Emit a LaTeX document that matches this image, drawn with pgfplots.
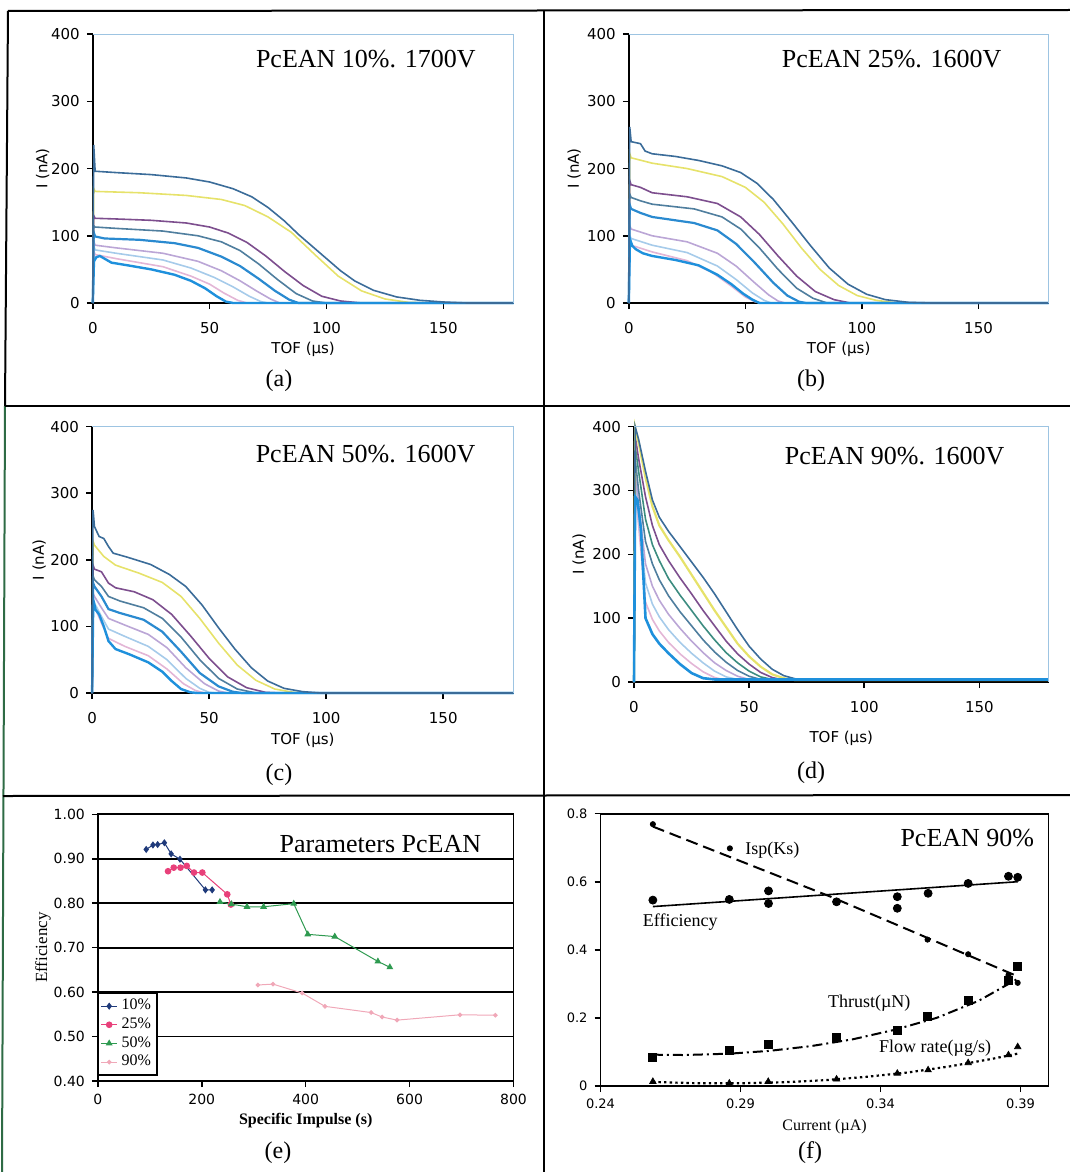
\documentclass[border=0pt]{standalone}
\usepackage{fontspec}
\setmainfont{Liberation Serif}
\newfontfamily\tickfont{DejaVu Sans}
\usepackage{pgfplots}
\pgfplotsset{compat=1.18}

\definecolor{cA}{HTML}{3B6C99}
\definecolor{cY}{HTML}{E6E26A}
\definecolor{cP}{HTML}{7D4E8E}
\definecolor{cG}{HTML}{4F7E9E}
\definecolor{cB}{HTML}{2A8AD0}
\definecolor{cLP}{HTML}{BBA6D6}
\definecolor{cLB}{HTML}{A6CBEA}
\definecolor{cPk}{HTML}{E3B6D6}
\definecolor{cB2}{HTML}{1E90DC}
\definecolor{cT}{HTML}{3C8C80}
\definecolor{boxblue}{HTML}{9DC4E2}
\definecolor{e10}{HTML}{1F3A7A}
\definecolor{e25}{HTML}{E8407A}
\definecolor{e50}{HTML}{2E9A50}
\definecolor{e90}{HTML}{F0A8B8}
\definecolor{framegreen}{HTML}{2E6B45}

\pgfplotsset{
  tof/.style={
    scale only axis, clip=false,
    xmin=0, xmax=180, ymin=0, ymax=400,
    axis x line=bottom, axis y line=left,
    axis line style={-,black,line width=1pt},
    xtick={0,50,100,150}, ytick={0,100,200,300,400},
    xticklabels={0,50,100,150}, yticklabels={0,100,200,300,400},
    tick align=outside, major tick length=3pt,
    tick style={black,line width=0.8pt},
    ticklabel style={font=\tickfont\fontsize{7.5}{8}\selectfont},
    xticklabel style={yshift=-3pt},
    label style={font=\tickfont\fontsize{7.5}{8}\selectfont},
    xlabel={TOF (µs)}, ylabel={I (nA)},
    every axis plot/.append style={line width=0.8pt},
  },
}

\begin{document}
\begin{tikzpicture}
\useasboundingbox (0,0) rectangle (535pt,-586pt);

% ---------------- (a)
\begin{axis}[tof, at={(46.4pt,-151.5pt)}, anchor=south west,
  width=210.35pt, height=134.45pt,
  xlabel style={at={(axis description cs:0.5,-0.172)},anchor=center},
  ylabel style={at={(axis description cs:-0.119,0.5)},anchor=center}]
\addplot[cLP] coordinates {(0,0)(0.4,92)(1,86)(10,82)(30,74)(45,62)(55,48)(63,33)(70,18)(76,6)(80,0)(180,0)};
\addplot[cLB] coordinates {(0,0)(0.4,85)(1,79)(10,74)(30,64)(42,52)(52,38)(60,24)(67,10)(72,2)(75,0)(180,0)};
\addplot[cPk] coordinates {(0,0)(0.4,78)(1,72)(10,66)(30,54)(42,40)(50,28)(56,15)(62,4)(66,0)(180,0)};
\addplot[cY] coordinates {(0,0)(0.4,170)(1,166)(20,164)(40,160)(55,154)(65,145)(75,128)(85,105)(95,72)(105,40)(115,18)(125,6)(135,1)(145,0)(180,0)};
\addplot[cP] coordinates {(0,0)(0.4,130)(1,126)(10,125)(25,123)(40,119)(50,113)(58,104)(66,90)(74,70)(82,47)(90,26)(98,10)(106,3)(115,0)(180,0)};
\addplot[cG] coordinates {(0,0)(0.4,115)(1,113)(10,111)(30,107)(45,100)(55,91)(63,78)(71,58)(79,35)(87,14)(94,3)(100,0)(180,0)};
\addplot[cB,line width=1.1pt] coordinates {(0,0)(0.4,105)(1,99)(5,96)(20,94)(35,89)(45,82)(55,69)(63,55)(71,36)(78,18)(84,5)(88,0)(180,0)};
\addplot[cB2,line width=1.2pt] coordinates {(0,0)(0.5,62)(1.5,68)(3,70)(5,66)(8,60)(15,56)(25,50)(35,42)(42,33)(48,22)(53,10)(57,2)(60,0)(180,0)};
\addplot[cA] coordinates {(0,0)(0.4,235)(1,196)(10,194)(25,191)(40,186)(50,180)(60,170)(68,158)(75,142)(82,122)(88,102)(94,84)(100,66)(106,48)(112,33)(120,19)(130,9)(140,4)(150,1.5)(160,0)(180,0)};
\draw[boxblue,line width=0.5pt] (rel axis cs:0,1) -- (rel axis cs:1,1) -- (rel axis cs:1,0);
\node[font=\fontsize{13}{14}\selectfont] at (axis cs:116.8,363) {PcEAN 10\%. 1700V};
\end{axis}

% ---------------- (b)
\begin{axis}[tof, at={(314.4pt,-151.5pt)}, anchor=south west,
  width=209.85pt, height=134.45pt,
  xlabel style={at={(axis description cs:0.5,-0.172)},anchor=center},
  ylabel style={at={(axis description cs:-0.130,0.5)},anchor=center}]
\addplot[cLP] coordinates {(0,0)(0.4,115)(1,110)(10,100)(25,91)(38,74)(46,55)(54,30)(60,12)(64,3)(67,0)(180,0)};
\addplot[cLB] coordinates {(0,0)(0.4,100)(1,96)(10,86)(25,75)(38,55)(46,35)(53,15)(58,4)(61,0)(180,0)};
\addplot[cPk] coordinates {(0,0)(0.4,90)(1,86)(10,76)(25,63)(36,45)(44,25)(50,9)(54,2)(57,0)(180,0)};
\addplot[cY] coordinates {(0,0)(0.4,222)(1,216)(10,208)(25,200)(40,188)(50,172)(58,150)(66,118)(74,82)(82,50)(90,26)(98,11)(106,4)(115,0)(180,0)};
\addplot[cP] coordinates {(0,0)(0.4,182)(1,176)(5,172)(10,164)(25,158)(38,148)(48,128)(56,102)(64,70)(72,40)(80,17)(88,5)(95,0)(180,0)};
\addplot[cG] coordinates {(0,0)(0.4,162)(1,157)(5,152)(10,147)(28,140)(40,128)(48,110)(56,82)(64,50)(72,22)(79,7)(85,0)(180,0)};
\addplot[cB,line width=1.1pt] coordinates {(0,0)(0.4,146)(1,140)(5,134)(10,128)(28,119)(38,108)(46,88)(54,60)(62,30)(68,11)(73,2)(76,0)(180,0)};
\addplot[cB2,line width=1.2pt] coordinates {(0,0)(0.5,95)(1.5,85)(3,80)(6,74)(10,70)(20,64)(30,56)(38,42)(44,28)(49,14)(53,5)(56,0)(180,0)};
\addplot[cA] coordinates {(0,0)(0.4,262)(1,240)(5,237)(7,226)(10,222)(20,218)(30,212)(40,204)(48,194)(55,178)(62,154)(70,120)(78,85)(86,52)(94,28)(102,13)(110,5)(120,1)(130,0)(180,0)};
\draw[boxblue,line width=0.5pt] (rel axis cs:0,1) -- (rel axis cs:1,1) -- (rel axis cs:1,0);
\node[font=\fontsize{13}{14}\selectfont] at (axis cs:112.7,363) {PcEAN 25\%. 1600V};
\end{axis}

% ---------------- (c)
\begin{axis}[tof, at={(46.05pt,-346.5pt)}, anchor=south west,
  width=210.7pt, height=133.2pt,
  xlabel style={at={(axis description cs:0.5,-0.176)},anchor=center},
  ylabel style={at={(axis description cs:-0.1255,0.5)},anchor=center}]
\addplot[cLP] coordinates {(0,0)(0.4,150)(1,145)(4,128)(7,112)(14,102)(24,88)(32,68)(40,38)(48,14)(54,3)(58,0)(180,0)};
\addplot[cLB] coordinates {(0,0)(0.4,140)(1,135)(4,115)(7,96)(14,85)(24,70)(32,50)(40,22)(46,7)(50,1)(53,0)(180,0)};
\addplot[cPk] coordinates {(0,0)(0.4,135)(1,130)(4,105)(7,82)(14,70)(24,56)(32,36)(39,14)(44,4)(48,0)(180,0)};
\addplot[cY] coordinates {(0,0)(0.4,228)(1,222)(5,205)(10,192)(20,180)(30,166)(38,145)(46,112)(54,75)(62,42)(70,19)(78,6)(86,1)(92,0)(180,0)};
\addplot[cP] coordinates {(0,0)(0.4,192)(1,186)(4,182)(7,165)(10,158)(18,152)(26,140)(34,118)(42,86)(50,52)(58,24)(66,8)(74,1)(80,0)(180,0)};
\addplot[cG] coordinates {(0,0)(0.4,176)(1,170)(4,160)(7,145)(12,138)(22,128)(30,112)(38,84)(46,50)(54,22)(62,6)(70,0)(180,0)};
\addplot[cB,line width=1.1pt] coordinates {(0,0)(0.4,166)(1,160)(4,145)(7,126)(12,120)(22,110)(30,92)(38,62)(46,30)(54,10)(60,2)(64,0)(180,0)};
\addplot[cB2,line width=1.2pt] coordinates {(0,0)(0.5,140)(1.5,125)(3,118)(5,100)(7,78)(10,66)(16,58)(24,46)(30,32)(34,18)(38,6)(42,1)(45,0)(180,0)};
\addplot[cA] coordinates {(0,0)(0.4,275)(1,250)(3,235)(5,232)(7,220)(9,210)(15,204)(25,193)(33,178)(40,160)(47,132)(54,98)(61,66)(68,38)(75,18)(82,7)(90,2)(98,0)(180,0)};
\draw[boxblue,line width=0.5pt] (rel axis cs:0,1) -- (rel axis cs:1,1) -- (rel axis cs:1,0);
\node[font=\fontsize{13}{14}\selectfont] at (axis cs:116.8,359) {PcEAN 50\%. 1600V};
\end{axis}

% ---------------- (d)
\begin{axis}[tof, at={(317pt,-341pt)}, anchor=south west,
  width=207.25pt, height=127.7pt,
  xlabel style={at={(axis description cs:0.5,-0.219)},anchor=center},
  ylabel style={at={(axis description cs:-0.132,0.5)},anchor=center}]
\addplot[cPk] coordinates {(0,0)(0.5,300)(2,245)(5,125)(8,98)(11,80)(15,62)(20,44)(25,29)(30,16)(35,7)(40,3)(180,3)};
\addplot[cLB] coordinates {(0,0)(0.5,315)(2,260)(5,155)(8,122)(11,102)(15,82)(20,62)(25,45)(30,30)(35,17)(40,8)(45,4)(180,3)};
\addplot[cLP] coordinates {(0,0)(0.5,330)(2,280)(5,185)(8,150)(11,128)(15,106)(20,84)(25,64)(30,46)(35,30)(40,18)(45,9)(50,4)(180,3)};
\addplot[cG] coordinates {(0,0)(0.5,350)(2,300)(5,220)(8,185)(11,160)(15,135)(20,110)(25,88)(30,66)(35,47)(40,31)(45,18)(50,9)(55,4)(180,3)};
\addplot[cT] coordinates {(0,0)(0.5,370)(2,330)(5,255)(8,215)(11,190)(15,162)(20,136)(25,112)(30,88)(35,66)(40,46)(45,30)(50,17)(55,8)(60,4)(180,3)};
\addplot[cP] coordinates {(0,0)(0.5,385)(2,350)(5,290)(8,245)(11,215)(15,190)(20,163)(25,138)(30,112)(35,88)(40,64)(45,44)(50,28)(55,15)(60,7)(65,3)(180,3)};
\addplot[cY,line width=1.1pt] coordinates {(0,0)(0.5,398)(2,375)(5,320)(8,275)(11,245)(15,222)(20,196)(25,168)(30,140)(35,112)(40,86)(45,60)(50,40)(55,24)(60,12)(65,6)(70,3)(180,3)};
\addplot[cA] coordinates {(0,0)(0.5,400)(2,380)(5,330)(8,285)(11,258)(15,236)(20,212)(25,188)(30,164)(35,138)(40,110)(45,82)(50,56)(55,36)(60,20)(65,10)(70,5)(75,3)(180,3)};
\addplot[cB2,line width=1.3pt] coordinates {(0,0)(0.5,290)(1.5,285)(3,240)(5,100)(8,75)(11,60)(15,45)(20,28)(25,14)(30,6)(35,4)(180,4)};
\draw[boxblue,line width=0.5pt] (rel axis cs:0,1) -- (rel axis cs:1,1) -- (rel axis cs:1,0);
\node[font=\fontsize{13}{14}\selectfont] at (axis cs:113.2,354.5) {PcEAN 90\%. 1600V};
\end{axis}

% ---------------- (e)
\begin{axis}[scale only axis, at={(48.95pt,-540.5pt)}, anchor=south west,
  width=207.8pt, height=133.35pt,
  xmin=0, xmax=800, ymin=0.4, ymax=1.0,
  xtick={0,200,400,600,800}, xticklabels={0,200,400,600,800},
  ytick={0.4,0.5,0.6,0.7,0.8,0.9,1.0},
  yticklabels={0.40,0.50,0.60,0.70,0.80,0.90,1.00},
  axis line style={black,line width=0.9pt},
  tick align=outside, major tick length=3pt,
  tick style={black,line width=0.8pt},
  xtick pos=left, ytick pos=left,
  ymajorgrids, grid style={black,line width=0.9pt},
  ticklabel style={font=\tickfont\fontsize{7}{8}\selectfont},
  xlabel={\bfseries Specific Impulse (s)}, ylabel={Efficiency},
  xlabel style={font=\fontsize{8}{9}\selectfont,at={(axis description cs:0.5,-0.15)},anchor=center},
  ylabel style={font=\fontsize{8.5}{9}\selectfont,at={(axis description cs:-0.132,0.5)},anchor=center},
  legend style={at={(axis description cs:0.0,0.02)},anchor=south west,
    draw=black,line width=0.8pt,fill=white,inner sep=1pt,
    font=\fontsize{8}{9}\selectfont,row sep=-1.5pt,
    cells={anchor=west}},
  legend image code/.code={\draw[#1,line width=0.5pt,mark repeat=2,mark phase=2] plot coordinates {(0pt,0pt)(4pt,0pt)(8pt,0pt)};},
  legend cell align=left,
]
\addplot[e10,line width=0.5pt,mark=diamond*,mark size=1.4pt] coordinates {
(93,0.921)(106,0.931)(115,0.932)(128,0.936)(141,0.911)(158,0.899)(207,0.830)(220,0.830)};
\addlegendentry{10\%}
\addplot[e25,line width=0.5pt,mark=*,mark size=1.4pt] coordinates {
(135,0.872)(146,0.880)(159,0.880)(171,0.884)(185,0.869)(201,0.869)(249,0.820)(256,0.797)};
\addlegendentry{25\%}
\addplot[e50,line width=0.5pt,mark=triangle*,mark size=1.5pt] coordinates {
(235,0.803)(257,0.798)(287,0.792)(319,0.792)(377,0.799)(404,0.730)(456,0.725)(539,0.669)(562,0.656)};
\addlegendentry{50\%}
\addplot[e90,line width=0.5pt,mark=*,mark size=0.9pt] coordinates {
(308,0.616)(337,0.618)(393,0.598)(437,0.568)(526,0.554)(547,0.544)(576,0.537)(697,0.549)(765,0.548)};
\addlegendentry{90\%}
\node[font=\fontsize{13}{14}\selectfont] at (axis cs:543.8,0.934) {Parameters PcEAN};
\end{axis}

% ---------------- (f)
\begin{axis}[scale only axis, at={(300.25pt,-543pt)}, anchor=south west,
  width=224pt, height=136.2pt,
  xmin=0.24, xmax=0.40, ymin=0, ymax=0.8,
  xtick={0.24,0.29,0.34,0.39}, xticklabels={0.24,0.29,0.34,0.39},
  ytick={0,0.2,0.4,0.6,0.8}, yticklabels={0,0.2,0.4,0.6,0.8},
  axis line style={black,line width=0.9pt},
  tick align=outside, major tick length=3pt,
  tick style={black,line width=0.8pt},
  xtick pos=left, ytick pos=left,
  ticklabel style={font=\tickfont\fontsize{6.5}{7}\selectfont},
  xlabel={Current (µA)},
  xlabel style={font=\fontsize{8}{9}\selectfont,at={(axis description cs:0.5,-0.15)},anchor=center},
]
% Isp
\addplot[black,only marks,mark=*,mark size=1.3pt] coordinates {
(0.2587,0.769)(0.2862,0.698)(0.3568,0.430)(0.3713,0.387)(0.3857,0.326)(0.389,0.303)};
\addplot[black,line width=1pt,dash pattern=on 6pt off 3pt] coordinates {
(0.2587,0.762)(0.3228,0.554)(0.389,0.322)};
% Efficiency
\addplot[black,only marks,mark=*,mark size=2pt] coordinates {
(0.2587,0.546)(0.286,0.548)(0.300,0.573)(0.300,0.536)(0.3243,0.541)(0.346,0.556)(0.346,0.522)(0.357,0.566)(0.3713,0.595)(0.3857,0.616)(0.389,0.613)};
\addplot[black,line width=0.8pt] coordinates {(0.2587,0.527)(0.389,0.600)};
% Thrust
\addplot[black,only marks,mark=square*,mark size=2pt] coordinates {
(0.2587,0.084)(0.286,0.104)(0.2999,0.122)(0.3243,0.143)(0.346,0.164)(0.3568,0.204)(0.3713,0.250)(0.3857,0.311)(0.389,0.350)};
\addplot[black,line width=1pt,dash pattern=on 5pt off 2pt on 1pt off 2pt] coordinates {
(0.2587,0.092)(0.27,0.091)(0.286,0.095)(0.30,0.103)(0.315,0.117)(0.33,0.137)(0.345,0.165)(0.36,0.200)(0.375,0.250)(0.389,0.315)};
% Flow rate
\addplot[black,only marks,mark=triangle*,mark size=1.8pt] coordinates {
(0.2587,0.013)(0.286,0.008)(0.2999,0.013)(0.3243,0.020)(0.346,0.037)(0.357,0.047)(0.3713,0.068)(0.3857,0.091)(0.389,0.115)};
\addplot[black,line width=1.1pt,dash pattern=on 1.2pt off 1.6pt] coordinates {
(0.2587,0.012)(0.275,0.008)(0.29,0.008)(0.305,0.011)(0.32,0.017)(0.335,0.027)(0.35,0.040)(0.365,0.058)(0.38,0.080)(0.389,0.095)};
\node[font=\fontsize{9}{10}\selectfont] at (axis cs:0.3014,0.693) {Isp(Ks)};
\node[font=\fontsize{9}{10}\selectfont] at (axis cs:0.2685,0.482) {Efficiency};
\node[font=\fontsize{9}{10}\selectfont] at (axis cs:0.336,0.243) {Thrust(µN)};
\node[font=\fontsize{9}{10}\selectfont] at (axis cs:0.3595,0.111) {Flow rate(µg/s)};
\node[font=\fontsize{13}{14}\selectfont] at (axis cs:0.371,0.727) {PcEAN 90\%};
\end{axis}

% ---------------- frame
\draw[black,line width=1pt] (4pt,-5.5pt) -- (535pt,-5pt);
\draw[black,line width=1pt] (4pt,-5.5pt) -- (2.5pt,-203pt);
\draw[framegreen,line width=1pt] (2.5pt,-203pt) -- (1pt,-586pt);
\draw[black,line width=1pt] (272pt,-5.5pt) -- (272pt,-586pt);
\draw[black,line width=1pt] (2.5pt,-203pt) -- (535pt,-203pt);
\draw[black,line width=1pt] (1.5pt,-398pt) -- (535pt,-397.5pt);

% panel letters
\node[font=\fontsize{12}{13}\selectfont] at (139.5pt,-190.5pt) {(a)};
\node[font=\fontsize{12}{13}\selectfont] at (405.5pt,-190.5pt) {(b)};
\node[font=\fontsize{12}{13}\selectfont] at (139.5pt,-387.5pt) {(c)};
\node[font=\fontsize{12}{13}\selectfont] at (405.5pt,-386.5pt) {(d)};
\node[font=\fontsize{12}{13}\selectfont] at (139pt,-576.5pt) {(e)};
\node[font=\fontsize{12}{13}\selectfont] at (405pt,-576.5pt) {(f)};
\end{tikzpicture}
\end{document}
